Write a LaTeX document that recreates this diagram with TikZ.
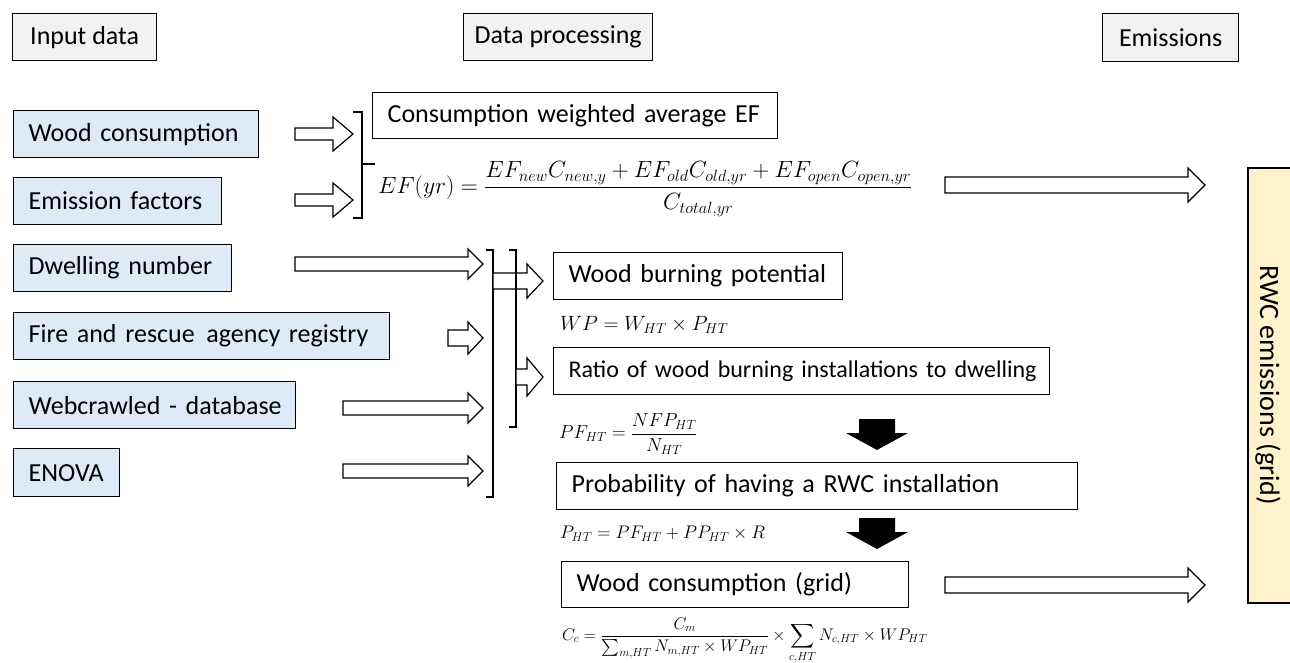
\documentclass[tikz,border=0pt]{standalone}
\usepackage{amsmath}
\usepackage{graphicx}
\usepackage{fontspec}
\setmainfont{Carlito}
\definecolor{hdrfill}{HTML}{F2F2F2}
\definecolor{infill}{HTML}{DEEBF7}
\definecolor{rwcfill}{HTML}{FFF2CC}
\newcommand\rarrow[6]{% x1 x2 y shafthalf headhalf headlen
  \draw[blockarr] (#1,#3-#4) -- (#2-#6,#3-#4) -- (#2-#6,#3-#5) -- (#2,#3) -- (#2-#6,#3+#5) -- (#2-#6,#3+#4) -- (#1,#3+#4) -- cycle;}
\newcommand\darrow[6]{% cx ytop yhead ytip shafthalf headhalf
  \fill[black] (#1-#5,#2) -- (#1+#5,#2) -- (#1+#5,#3) -- (#1+#6,#3) -- (#1,#4) -- (#1-#6,#3) -- (#1-#5,#3) -- cycle;}
\begin{document}
\begin{tikzpicture}[x=1pt,y=-1pt,
  every node/.style={font=\fontsize{26}{31}\selectfont},
  boxbase/.style={draw=black, line width=1.3pt, anchor=north west, align=left, inner xsep=15pt, inner ysep=0pt},
  hdr/.style={draw=black, line width=1.3pt, anchor=north west, inner sep=0pt, fill=hdrfill},
  inbox/.style={boxbase, fill=infill},
  procbox/.style={boxbase, fill=white},
  blockarr/.style={draw=black, line width=1.2pt, fill=white, line join=miter},
  brk/.style={draw=black, line width=1.2pt},
  formula/.style={anchor=west, inner sep=0pt}
]
\useasboundingbox (0,0) rectangle (1290,663);
\fill[white] (0,0) rectangle (1290,663);
% headers
\node[hdr, minimum width=144pt, minimum height=47pt] (hin) at (12,13) {Input data};
\node[hdr, minimum width=189pt, minimum height=47pt] (hproc) at (463,13) {Data processing};
\node[hdr, minimum width=136pt, minimum height=48pt] (hem) at (1102,13) {Emissions};
% input boxes
\node[inbox, text width=215pt, minimum height=47pt] (wood) at (13,110) {\mbox{Wood consumption}};
\node[inbox, text width=178pt, minimum height=47pt] (ef) at (13,177) {\mbox{Emission factors}};
\node[inbox, text width=188pt, minimum height=47pt] (dwell) at (13,244) {\mbox{Dwelling number}};
\node[inbox, text width=346pt, minimum height=47pt] (fire) at (13,312) {\mbox{Fire and rescue\hspace{3pt} agency registry}};
\node[inbox, text width=252pt, minimum height=47pt] (web) at (13,381) {\mbox{Webcrawled - database}};
\node[inbox, text width=76pt, minimum height=48pt] (enova) at (13,448) {\mbox{ENOVA}};
% processing boxes
\node[procbox, text width=375pt, minimum height=46pt] (cwa) at (372,92) {\mbox{Consumption weighted average EF}};
\node[procbox, text width=259pt, minimum height=47pt] (wbp) at (553,252) {\mbox{Wood burning potential}};
\node[procbox, text width=466pt, minimum height=47pt, font=\fontsize{24}{30}\selectfont] (ratio) at (553,347) {\mbox{Ratio of wood burning installations to dwelling}};
\node[procbox, text width=491pt, minimum height=47pt] (prob) at (556,462) {\mbox{Probability of having a RWC installation}};
\node[procbox, text width=317pt, minimum height=46pt] (wcg) at (561,561) {\mbox{Wood consumption (grid)}};
% RWC emissions box
\draw[line width=1.3pt, fill=rwcfill] (1248,168) rectangle (1300,603);
\node[rotate=-90, inner sep=0pt, font=\fontsize{28}{33}\selectfont] (rwc) at (1268,385) {RWC emissions (grid)};
% formulas
\node[formula] (fef) at (378,189) {\resizebox{534pt}{!}{$EF(yr)=\dfrac{EF_{new}C_{new,y}+EF_{old}C_{old,yr}+EF_{open}C_{open,yr}}{C_{total,yr}}$}};
\node[formula] (fwp) at (560,325) {\resizebox{168pt}{!}{$WP=W_{HT}\times P_{HT}$}};
\node[formula] (fpf) at (559,434) {\resizebox{138pt}{!}{$PF_{HT}=\dfrac{NFP_{HT}}{N_{HT}}$}};
\node[formula] (fpht) at (560,534) {\resizebox{205pt}{!}{$P_{HT}=PF_{HT}+PP_{HT}\times R$}};
\node[formula] (fcc) at (562,641) {\resizebox{365pt}{!}{$C_c=\dfrac{C_m}{\sum_{m,HT}N_{m,HT}\times WP_{HT}}\times\displaystyle\sum_{c,HT}N_{c,HT}\times WP_{HT}$}};
% small arrows to EF bracket
\rarrow{295}{353}{134}{6}{17}{20}
\rarrow{295}{353}{200}{6}{17}{20}
% EF bracket
\draw[brk] (353,112) -- (362,112) -- (362,218) -- (353,218);
\draw[brk] (362,164) -- (375,164);
% input arrows to brackets
\rarrow{295}{483}{264}{7}{15}{15}
\rarrow{448}{483}{338}{8}{16}{15}
\rarrow{343}{483}{408}{7}{15}{15}
\rarrow{343}{483}{471}{7}{15}{15}
% brackets
\draw[brk] (486,250) -- (493,250) -- (493,497) -- (486,497);
\draw[brk] (509,250) -- (516,250) -- (516,427) -- (509,427);
\rarrow{493}{543}{281}{8}{17}{16}
\draw[brk] (516,273) -- (516,289);
\rarrow{516}{543}{377}{8}{19}{16}
% big arrows
\rarrow{945}{1205}{185}{8}{17}{17}
\rarrow{945}{1205}{585}{8}{17}{17}
% black down arrows
\darrow{877}{419}{433}{450}{18}{31}
\darrow{877}{518}{532}{549}{18}{31}
\end{tikzpicture}
\end{document}
